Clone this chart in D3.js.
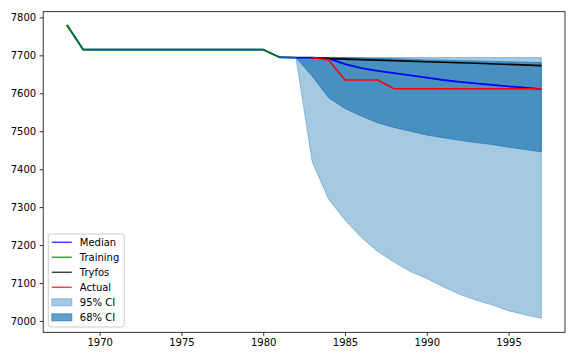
<!DOCTYPE html>
<html>
<head>
<meta charset="utf-8">
<script src="https://cdn.jsdelivr.net/npm/d3@7"></script>
<style>
  html, body { margin: 0; padding: 0; background: #fff; }
  svg { display: block; font-family: "DejaVu Sans", sans-serif; }
</style>
</head>
<body>
<svg id="chart" width="576" height="360"></svg>
<script>
// ---- data ----
const trainingYears = [1968,1969,1970,1971,1972,1973,1974,1975,1976,1977,1978,1979,1980,1981,1982];
const trainingValues = [7780,7715,7715,7715,7715,7715,7715,7715,7715,7715,7715,7715,7715,7695,7694];

const forecastYears = [1982,1983,1984,1985,1986,1987,1988,1989,1990,1991,1992,1993,1994,1995,1996,1997];
const medianForecast = [7694,7694,7692,7677,7666,7659,7653,7647,7641,7635,7630,7626,7622,7618,7615,7611];
const ci95Upper = [7694,7694,7694,7694,7694,7694,7694,7694,7694,7694,7694,7694,7694,7694,7694,7694];
const ci95Lower = [7694,7419,7321,7266,7220,7183,7155,7130,7112,7090,7070,7055,7042,7027,7016,7007];
const ci68Upper = [7694,7694,7694,7694,7693,7692,7691,7690,7688,7687,7686,7685,7684,7683,7682,7681];
const ci68Lower = [7694,7645,7588,7560,7540,7522,7510,7500,7490,7483,7476,7470,7465,7458,7452,7446];

const tryfosYears = [1983,1985,1988,1990,1993,1997];
const tryfosValues = [7693,7690,7686,7683,7679,7673];

const actualYears = [1983,1984,1985,1986,1987,1988,1989,1990,1991,1992,1993,1994,1995,1996,1997];
const actualValues = [7694,7688,7635,7635,7635,7612,7612,7612,7612,7612,7612,7612,7612,7612,7612];

const xTicks = [1970,1975,1980,1985,1990,1995];
const yTicks = [7000,7100,7200,7300,7400,7500,7600,7700,7800];

const legendLabels = ["Median","Training","Tryfos","Actual","95% CI","68% CI"];

// ---- layout ----
const svg = d3.select("#chart");
const L = 43.2, R = 565, T = 11.7, B = 332.3;
const x = d3.scaleLinear().domain([1966.55, 1998.45]).range([L, R]);
const y = d3.scaleLinear().domain([6970, 7815]).range([B, T]);

const C0 = "#1f77b4";

// CI bands
const band = (lo, hi) => d3.area()
  .x((d, i) => x(forecastYears[i]))
  .y0((d, i) => y(lo[i]))
  .y1((d, i) => y(hi[i]))(forecastYears);

svg.append("path").attr("d", band(ci95Lower, ci95Upper))
  .attr("fill", C0).attr("fill-opacity", 0.4)
  .attr("stroke", C0).attr("stroke-opacity", 0.4).attr("stroke-width", 1);
svg.append("path").attr("d", band(ci68Lower, ci68Upper))
  .attr("fill", C0).attr("fill-opacity", 0.7)
  .attr("stroke", C0).attr("stroke-opacity", 0.7).attr("stroke-width", 1);

const line = d3.line().x(d => x(d[0])).y(d => y(d[1]));
const zip = (a, b) => a.map((v, i) => [v, b[i]]);

const medianAll = zip(trainingYears, trainingValues).concat(zip(forecastYears, medianForecast).slice(1));

function drawLine(data, color, w) {
  svg.append("path").attr("d", line(data)).attr("fill", "none")
    .attr("stroke", color).attr("stroke-width", w)
    .attr("stroke-linejoin", "round");
}
drawLine(medianAll, "blue", 1.8);
drawLine(zip(trainingYears, trainingValues), "green", 1.6);
drawLine(zip(tryfosYears, tryfosValues), "black", 1.6);
drawLine(zip(actualYears, actualValues), "red", 1.6);

// axes
const xAxis = d3.axisBottom(x).tickValues(xTicks).tickFormat(d3.format("d")).tickSize(3.5).tickPadding(3.5);
const yAxis = d3.axisLeft(y).tickValues(yTicks).tickFormat(d3.format("d")).tickSize(3.5).tickPadding(3.5);

const gx = svg.append("g").attr("transform", `translate(0,${B})`).call(xAxis);
const gy = svg.append("g").attr("transform", `translate(${L},0)`).call(yAxis);
[gx, gy].forEach(g => {
  g.select(".domain").remove();
  g.selectAll("line").attr("stroke", "#000").attr("stroke-width", 0.8);
  g.selectAll("text").attr("fill", "#000").style("font-size", "10px").style("font-family", "DejaVu Sans");
});

// frame
svg.append("rect").attr("x", L).attr("y", T).attr("width", R - L).attr("height", B - T)
  .attr("fill", "none").attr("stroke", "#000").attr("stroke-width", 0.8);

// legend
const lg = svg.append("g").attr("transform", "translate(48.3,234)");
lg.append("rect").attr("width", 76).attr("height", 93).attr("rx", 2.5)
  .attr("fill", "#fff").attr("fill-opacity", 0.8).attr("stroke", "#cccccc").attr("stroke-width", 1);
const legendStyles = [
  {type: "line", color: "blue"},
  {type: "line", color: "green"},
  {type: "line", color: "black"},
  {type: "line", color: "red"},
  {type: "patch", color: C0, op: 0.4},
  {type: "patch", color: C0, op: 0.7}
];
legendLabels.forEach((lab, i) => {
  const cy = 8.3 + i * 15;
  const s = legendStyles[i];
  if (s.type === "line") {
    lg.append("line").attr("x1", 3.5).attr("x2", 23.5).attr("y1", cy).attr("y2", cy)
      .attr("stroke", s.color).attr("stroke-opacity", 0.75).attr("stroke-width", 1.5);
  } else {
    lg.append("rect").attr("x", 3.5).attr("y", cy - 3.5).attr("width", 20).attr("height", 7)
      .attr("fill", s.color).attr("fill-opacity", s.op)
      .attr("stroke", s.color).attr("stroke-opacity", s.op).attr("stroke-width", 1);
  }
  lg.append("text").attr("x", 31.5).attr("y", cy).attr("dy", "0.35em")
    .style("font-size", "10px").attr("fill", "#000").text(lab);
});
</script>
</body>
</html>
